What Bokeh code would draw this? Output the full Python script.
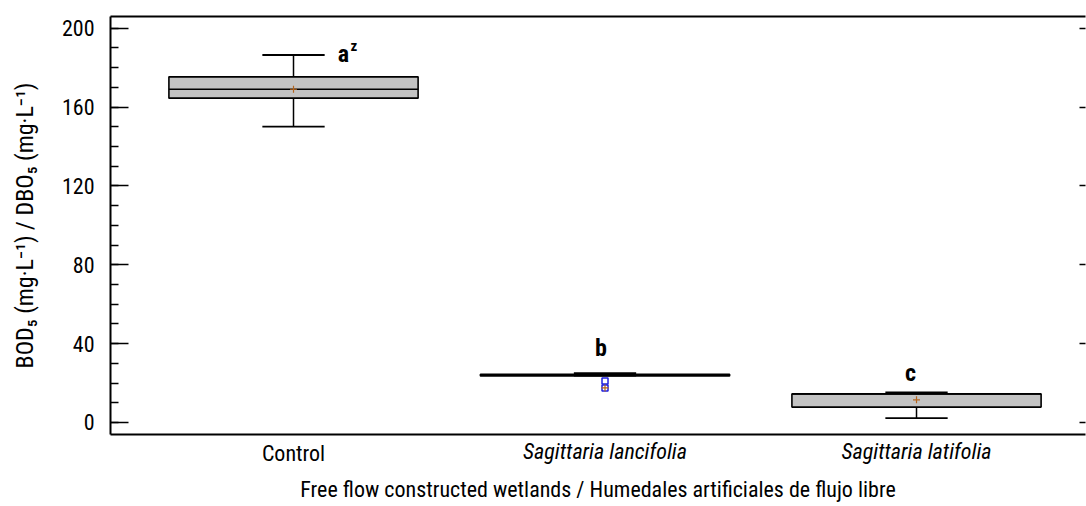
import numpy as np
from bokeh.plotting import figure
from bokeh.models import Range1d, LinearAxis, FixedTicker, ColumnDataSource
from bokeh.core.properties import value
from bokeh.embed import file_html
from bokeh.resources import INLINE

# ---- data ----
categories = ["Control", "Sagittaria lancifolia", "Sagittaria latifolia"]
q1 = [164.5, 23.6, 7.8]
median = [169.0, 24.0, 14.5]
q3 = [175.3, 24.4, 14.5]
lower_whisker = [150.0, 23.8, 2.2]
upper_whisker = [186.4, 25.0, 15.2]
means = [169.0, 17.5, 11.5]
outlier_group = [1, 1]
outlier_values = [21.0, 17.5]
letters = ["a", "b", "c"]
letter_sup = ["z", "", ""]
letter_y = [187.0, 38.0, 25.3]
y_ticks = [0, 40, 80, 120, 160, 200]

FONT = "Liberation Sans Narrow, Roboto Condensed, Arial Narrow, sans-serif"

xs = np.arange(len(categories))
BOX_W = 0.8
CAP_W = 0.2

p = figure(
    width=1086, height=506,
    x_range=Range1d(-0.5875, 2.5425),
    y_range=Range1d(-6.1, 205.9),
    output_backend="svg", toolbar_location=None,
    min_border_left=110, min_border_right=1, min_border_top=16, min_border_bottom=72,
)
p.outline_line_color = None
p.grid.visible = False
p.background_fill_color = "white"

src = ColumnDataSource(dict(
    x=xs, left=xs - BOX_W / 2, right=xs + BOX_W / 2,
    q1=q1, q3=q3, med=median, lw=lower_whisker, uw=upper_whisker,
    cl=xs - CAP_W / 2, cr=xs + CAP_W / 2, mean=means,
))

# whiskers
p.segment(x0="x", y0="q3", x1="x", y1="uw", source=src, line_color="black", line_width=1.5)
p.segment(x0="x", y0="q1", x1="x", y1="lw", source=src, line_color="black", line_width=1.5)
# caps
p.segment(x0="cl", y0="uw", x1="cr", y1="uw", source=src, line_color="black", line_width=2)
p.segment(x0="cl", y0="lw", x1="cr", y1="lw", source=src, line_color="black", line_width=1.8)
# boxes
p.quad(left="left", right="right", bottom="q1", top="q3", source=src,
       fill_color="#c3c3c3", line_color="black", line_width=1.6)
# medians
p.segment(x0="left", y0="med", x1="right", y1="med", source=src, line_color="black", line_width=1.5)
# outliers
p.scatter(x=[xs[g] for g in outlier_group], y=outlier_values, marker="square", size=6,
          fill_color=None, line_color="#2020e0", line_width=1.5)
# means
p.scatter(x="x", y="mean", source=src, marker="cross", size=7, line_color="#b5651d", line_width=1.2)

# significance letters
p.text(x=xs, y=letter_y, text=letters, text_font=value(FONT), text_font_style="bold",
       text_font_size="24px", text_align="center", text_baseline="middle", text_color="black",
       x_offset=[50, -4, -6])
p.text(x=[xs[0]], y=[letter_y[0]], text=[letter_sup[0]], text_font=value(FONT), text_font_style="bold",
       text_font_size="15px", text_align="left", text_baseline="middle", text_color="black",
       x_offset=57, y_offset=-8)

# left axis
ya = p.yaxis[0]
ya.ticker = FixedTicker(ticks=y_ticks, minor_ticks=list(range(0, 201, 10)))
ya.major_tick_in = 18
ya.major_tick_out = 0
ya.minor_tick_in = 8
ya.minor_tick_out = 0
ya.axis_line_width = 2
ya.major_tick_line_width = 1.5
ya.minor_tick_line_width = 1.5
ya.major_label_text_font = FONT
ya.major_label_text_font_size = "22px"
ya.major_label_text_color = "black"
ya.major_label_standoff = 16
ya.axis_label = "BOD\u2085 (mg\u00b7L\u207b\u00b9) / DBO\u2085 (mg\u00b7L\u207b\u00b9)"
ya.axis_label_text_font = FONT
ya.axis_label_text_font_size = "24px"
ya.axis_label_text_font_style = "normal"
ya.axis_label_text_color = "black"
ya.axis_label_standoff = 20

# bottom axis nearest the frame: italic species names
xa = p.xaxis[0]
xa.ticker = FixedTicker(ticks=[1, 2], minor_ticks=[])
xa.major_label_overrides = {1: categories[1], 2: categories[2]}
xa.major_tick_in = 0
xa.major_tick_out = 0
xa.minor_tick_in = 0
xa.minor_tick_out = 0
xa.axis_line_width = 2
xa.major_label_text_font = FONT
xa.major_label_text_font_size = "22px"
xa.major_label_text_font_style = "italic"
xa.major_label_text_color = "black"
xa.major_label_standoff = 4

# second bottom axis: upright "Control" pulled up into the same row, plus the title
xb = LinearAxis(ticker=FixedTicker(ticks=[0], minor_ticks=[]),
                major_label_overrides={0: categories[0]},
                major_tick_in=0, major_tick_out=0, minor_tick_in=0, minor_tick_out=0,
                axis_line_color=None,
                major_label_text_font=FONT, major_label_text_font_size="22px",
                major_label_text_color="black", major_label_standoff=-26,
                axis_label="Free flow constructed wetlands / Humedales artificiales de flujo libre",
                axis_label_text_font=FONT, axis_label_text_font_size="22px",
                axis_label_text_font_style="normal", axis_label_text_color="black",
                axis_label_standoff=8)
p.add_layout(xb, "below")

# top border line
top = LinearAxis(ticker=FixedTicker(ticks=[]), major_label_text_font_size="0px",
                 major_tick_in=0, major_tick_out=0, minor_tick_in=0, minor_tick_out=0,
                 major_label_standoff=0, axis_line_width=2)
p.add_layout(top, "above")

# right inward ticks
right = LinearAxis(ticker=FixedTicker(ticks=y_ticks, minor_ticks=[]),
                   major_label_overrides={t: "" for t in y_ticks}, major_label_standoff=0,
                   major_tick_in=6, major_tick_out=0, minor_tick_in=0, minor_tick_out=0,
                   major_tick_line_width=1.5, axis_line_color=None)
p.add_layout(right, "right")

open("out.html", "w").write(file_html(p, INLINE))
